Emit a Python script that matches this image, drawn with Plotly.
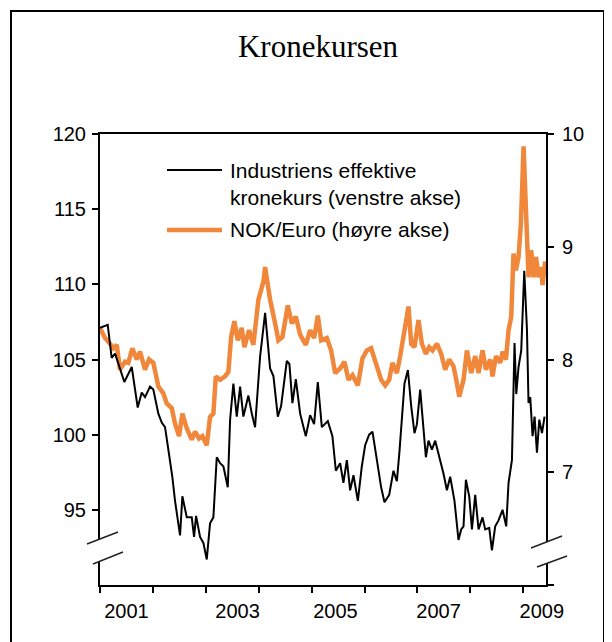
import plotly.graph_objects as go

# ---------------- data ----------------
# Industriens effektive kronekurs (left axis); x = decimal year
ind_year = [2001.00, 2001.146, 2001.221, 2001.284, 2001.46, 2001.60, 2001.713, 2001.789, 2001.851,
            2001.946, 2002.008, 2002.103, 2002.167, 2002.229, 2002.292, 2002.367, 2002.418, 2002.513,
            2002.557, 2002.640, 2002.734, 2002.778, 2002.816, 2002.891, 2002.954, 2003.018, 2003.080,
            2003.143, 2003.207, 2003.270, 2003.332, 2003.415, 2003.459, 2003.521, 2003.585, 2003.648,
            2003.710, 2003.805, 2003.869, 2003.931, 2004.026, 2004.121, 2004.215, 2004.278, 2004.361,
            2004.423, 2004.531, 2004.580, 2004.637, 2004.701, 2004.783, 2004.890, 2004.972, 2005.047,
            2005.117, 2005.193, 2005.306, 2005.393, 2005.458, 2005.539, 2005.601, 2005.666, 2005.728,
            2005.791, 2005.874, 2005.949, 2006.012, 2006.087, 2006.150, 2006.233, 2006.314, 2006.377,
            2006.466, 2006.547, 2006.611, 2006.661, 2006.736, 2006.755, 2006.820, 2006.882, 2006.944,
            2006.990, 2007.052, 2007.096, 2007.160, 2007.209, 2007.274, 2007.336, 2007.398, 2007.493,
            2007.557, 2007.619, 2007.700, 2007.776, 2007.827, 2007.871, 2007.916, 2007.979, 2008.030,
            2008.092, 2008.155, 2008.230, 2008.281, 2008.357, 2008.408, 2008.470, 2008.533, 2008.609,
            2008.678, 2008.722, 2008.786, 2008.816, 2008.835, 2008.868, 2008.911, 2008.962, 2009.019,
            2009.070, 2009.100, 2009.132, 2009.176, 2009.214, 2009.259, 2009.303, 2009.354, 2009.403]
ind_value = [107.1, 107.3, 105.1, 105.4, 103.5, 104.5, 101.8, 102.8, 102.5,
             103.2, 103.0, 101.4, 100.8, 100.5, 99.0, 97.2, 95.6, 93.3,
             95.9, 94.5, 94.5, 93.2, 94.6, 93.2, 92.8, 91.7, 94.1,
             94.5, 98.5, 98.1, 97.9, 96.5, 101.0, 103.4, 101.2, 103.2,
             101.2, 102.6, 101.4, 100.5, 105.2, 108.1, 104.4, 103.9, 101.2,
             101.9, 104.9, 104.7, 102.1, 103.7, 101.4, 99.9, 101.3, 100.7,
             103.5, 100.5, 100.9, 99.9, 97.6, 98.1, 96.8, 98.3, 96.3,
             97.3, 95.6, 97.9, 99.3, 100.0, 100.2, 98.2, 96.5, 95.5,
             96.0, 97.6, 96.9, 98.9, 102.1, 103.4, 104.3, 101.9, 100.1,
             100.7, 103.0, 101.2, 98.5, 99.6, 99.0, 99.6, 98.8, 97.4,
             96.3, 97.2, 95.6, 93.0, 93.7, 93.9, 97.0, 95.9, 93.7,
             96.0, 93.7, 94.5, 93.7, 93.8, 92.3, 93.9, 94.3, 95.0,
             93.9, 96.8, 98.3, 103.0, 106.1, 102.7, 104.5, 105.6, 110.9,
             107.0, 102.1, 102.5, 99.9, 101.2, 98.8, 101.0, 100.1, 101.2]

# NOK/Euro (right axis)
nok_year = [2001.00, 2001.095, 2001.189, 2001.252, 2001.316, 2001.378, 2001.473, 2001.535, 2001.611,
            2001.694, 2001.757, 2001.851, 2001.927, 2002.008, 2002.103, 2002.197, 2002.261, 2002.356,
            2002.418, 2002.494, 2002.557, 2002.640, 2002.734, 2002.797, 2002.872, 2002.935, 2003.018,
            2003.080, 2003.143, 2003.189, 2003.270, 2003.364, 2003.426, 2003.478, 2003.540, 2003.604,
            2003.678, 2003.729, 2003.818, 2003.899, 2003.994, 2004.088, 2004.121, 2004.215, 2004.310,
            2004.372, 2004.448, 2004.550, 2004.626, 2004.701, 2004.783, 2004.890, 2004.972, 2005.047,
            2005.117, 2005.180, 2005.287, 2005.369, 2005.444, 2005.539, 2005.620, 2005.696, 2005.772,
            2005.874, 2005.961, 2006.044, 2006.125, 2006.214, 2006.314, 2006.390, 2006.466, 2006.528,
            2006.611, 2006.674, 2006.755, 2006.831, 2006.882, 2006.944, 2007.020, 2007.084, 2007.160,
            2007.222, 2007.285, 2007.368, 2007.449, 2007.525, 2007.600, 2007.682, 2007.746, 2007.790,
            2007.871, 2007.935, 2008.017, 2008.092, 2008.155, 2008.230, 2008.294, 2008.376, 2008.419,
            2008.484, 2008.565, 2008.609, 2008.673, 2008.722, 2008.773, 2008.816, 2008.861, 2008.911,
            2008.956, 2009.006, 2009.051, 2009.100, 2009.151, 2009.195, 2009.240, 2009.289, 2009.340,
            2009.365, 2009.416]
nok_value = [8.28, 8.19, 8.14, 8.10, 8.13, 7.91, 7.98, 7.97, 8.10,
             8.00, 8.07, 7.91, 8.00, 7.97, 7.76, 7.70, 7.61, 7.57,
             7.43, 7.32, 7.52, 7.39, 7.29, 7.36, 7.30, 7.32, 7.24,
             7.49, 7.52, 7.85, 7.82, 7.85, 7.89, 8.20, 8.34, 8.17,
             8.28, 8.11, 8.26, 8.13, 8.53, 8.69, 8.82, 8.53, 8.32,
             8.17, 8.20, 8.48, 8.32, 8.38, 8.22, 8.13, 8.26, 8.19,
             8.39, 8.17, 8.19, 8.08, 7.88, 7.92, 7.98, 7.82, 7.86,
             7.77, 8.01, 8.08, 8.10, 7.97, 7.82, 7.77, 7.82, 7.97,
             7.88, 8.03, 8.26, 8.47, 8.14, 8.11, 8.35, 8.14, 8.05,
             8.11, 8.08, 8.14, 8.05, 7.91, 8.00, 7.94, 7.79, 7.67,
             7.82, 8.08, 7.88, 8.03, 7.88, 8.08, 7.91, 8.00, 7.85,
             8.03, 7.97, 8.07, 8.00, 8.26, 8.38, 8.94, 8.79, 8.91,
             9.21, 9.89, 9.33, 8.73, 8.97, 8.73, 8.91, 8.73, 8.82,
             8.66, 8.87]

left_ticks = [95, 100, 105, 110, 115, 120]
right_ticks = [6, 7, 8, 9, 10]
right_ticktext = ["", "7", "8", "9", "10"]
year_ticks = [2001, 2002, 2003, 2004, 2005, 2006, 2007, 2008, 2009]
year_labels = ["2001", "2003", "2005", "2007", "2009"]

series_names = ["Industriens effektive<br>kronekurs (venstre akse)", "NOK/Euro (høyre akse)"]
title_text = "Kronekursen"

# ---------------- layout constants ----------------
PAGE_OFF = 8                     # default body margin of the html page
W, H = 612 - PAGE_OFF, 642 - PAGE_OFF
# plot area, in page pixels
L, R, T, B = 100, 546, 134, 585
ORANGE = "#F0873A"
FONT = "Liberation Sans, Arial, sans-serif"
year_label_pos = [2001.5, 2003.6, 2005.45, 2007.4, 2009.35]


def px_x(p):
    return (p - L) / (R - L)


def px_y(p):
    return (B - p) / (B - T)


fig = go.Figure()
fig.add_trace(go.Scatter(x=nok_year, y=nok_value, mode="lines", yaxis="y",
                         line=dict(color=ORANGE, width=4.5), showlegend=False))
fig.add_trace(go.Scatter(x=ind_year, y=ind_value, mode="lines", yaxis="y2",
                         line=dict(color="black", width=2), showlegend=False))

axis_common = dict(showgrid=False, zeroline=False, showline=True, linecolor="black", linewidth=2,
                   ticks="outside", ticklen=6, tickwidth=1.5, tickcolor="black",
                   tickfont=dict(family=FONT, size=20, color="black"))

fig.update_layout(
    width=W, height=H,
    margin=dict(l=L - PAGE_OFF, r=W - (R - PAGE_OFF), t=T - PAGE_OFF, b=H - (B - PAGE_OFF),
                autoexpand=False),
    paper_bgcolor="white", plot_bgcolor="white",
    showlegend=False,
    title=dict(text=title_text, x=(318 - PAGE_OFF) / W, xanchor="center",
               y=1 - (46 - PAGE_OFF) / H, yanchor="middle",
               font=dict(family="Liberation Serif, Times New Roman, serif", size=31, color="black")),
    xaxis=dict(range=[2001, 2009.43], showgrid=False, zeroline=False, showline=True,
               linecolor="black", linewidth=2, mirror=True,
               tickmode="array", tickvals=year_label_pos, ticktext=year_labels, ticks="",
               ticklabelstandoff=7,
               tickfont=dict(family=FONT, size=20, color="black"),
               minor=dict(tickmode="array", tickvals=year_ticks, ticks="outside", ticklen=6,
                          tickwidth=1.5, tickcolor="black", showgrid=False)),
    yaxis=dict(side="right", range=[6, 10], tickmode="array", tickvals=right_ticks,
               ticktext=right_ticktext, ticklabelstandoff=4, **axis_common),
    yaxis2=dict(side="left", overlaying="y", range=[90, 120], tickmode="array",
                tickvals=left_ticks, ticklabelstandoff=2, **axis_common),
)

shapes = []
# outer frame (left/top/right edges; bottom runs off the picture)
shapes.append(dict(type="rect", xref="paper", yref="paper",
                   x0=px_x(11), x1=px_x(604), y0=px_y(11), y1=px_y(700),
                   line=dict(color="black", width=2), fillcolor="rgba(0,0,0,0)", layer="above"))


# axis-break marks
def break_mark(up_left, up_right, lo_left, lo_right):
    pts = [up_left, up_right, lo_right, lo_left]
    path = "M " + " L ".join(f"{px_x(x)},{px_y(y)}" for x, y in pts) + " Z"
    out = [dict(type="path", xref="paper", yref="paper", path=path, fillcolor="white",
                line=dict(width=0), layer="above")]
    for a, b in [(up_left, up_right), (lo_left, lo_right)]:
        out.append(dict(type="line", xref="paper", yref="paper",
                        x0=px_x(a[0]), y0=px_y(a[1]), x1=px_x(b[0]), y1=px_y(b[1]),
                        line=dict(color="#222222", width=1.5), layer="above"))
    return out


shapes += break_mark((87, 544), (118, 532), (93, 564), (123, 552))
shapes += break_mark((531, 548), (562, 536), (537, 567), (567, 556))

# legend samples
shapes.append(dict(type="line", xref="paper", yref="paper", x0=px_x(167), x1=px_x(222),
                   y0=px_y(170), y1=px_y(170), line=dict(color="black", width=1.8)))
shapes.append(dict(type="line", xref="paper", yref="paper", x0=px_x(167), x1=px_x(222),
                   y0=px_y(230), y1=px_y(230), line=dict(color=ORANGE, width=4.5)))
fig.update_layout(shapes=shapes)

fig.add_annotation(xref="paper", yref="paper", x=px_x(228), y=px_y(184), xanchor="left",
                   yanchor="middle", text=series_names[0], showarrow=False, align="left",
                   font=dict(family=FONT, size=21, color="black"))
fig.add_annotation(xref="paper", yref="paper", x=px_x(228), y=px_y(229), xanchor="left",
                   yanchor="middle", text=series_names[1], showarrow=False, align="left",
                   font=dict(family=FONT, size=21, color="black"))

fig.write_html("out.html")
